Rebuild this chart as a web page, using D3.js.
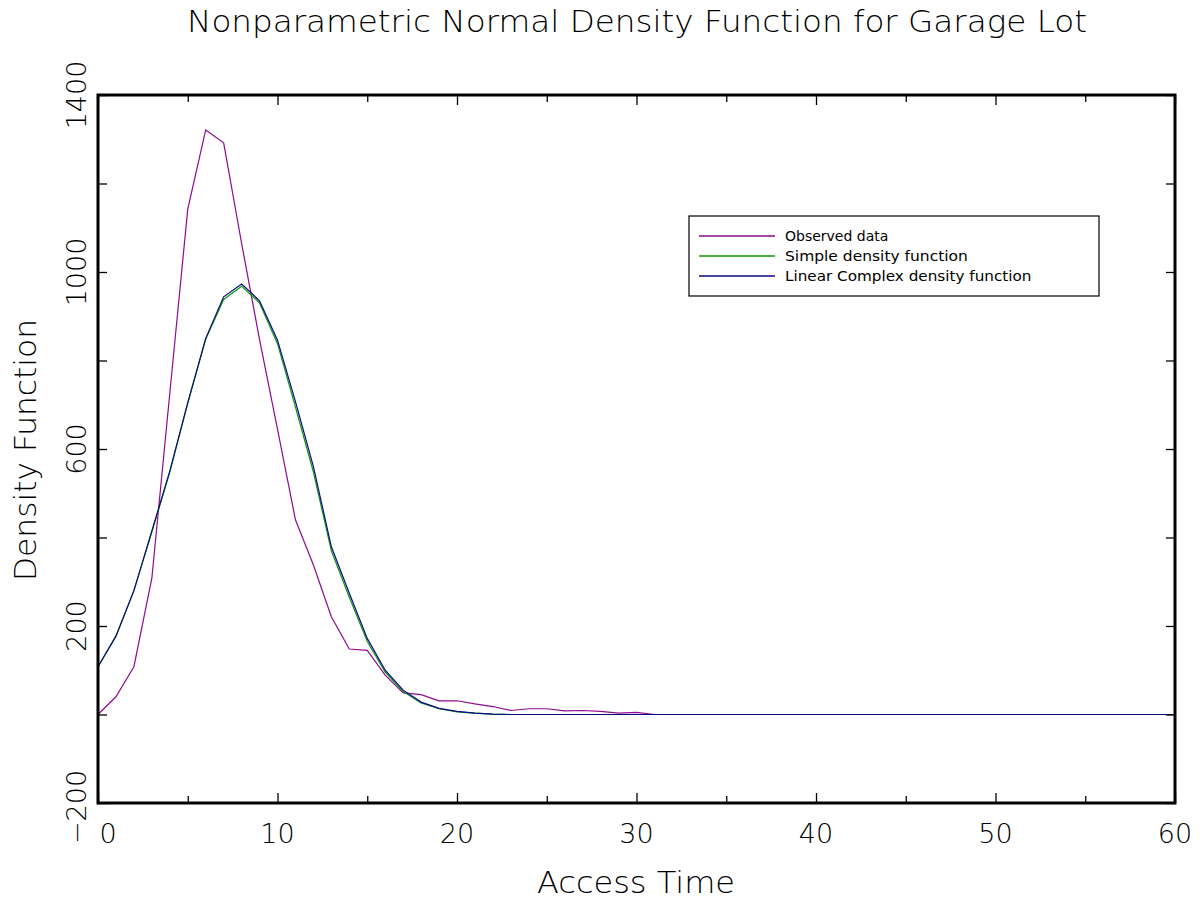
<!DOCTYPE html>
<html>
<head>
<meta charset="utf-8">
<script src="https://cdn.jsdelivr.net/npm/d3@7"></script>
<style>
  body { margin: 0; background: #fff; }
  text { font-family: "DejaVu Sans", sans-serif; font-weight: 200; fill: #000; }
</style>
</head>
<body>
<script>
// access time 0..60
let accessTime = d3.range(0, 61)

let observed = [0, 40, 108, 308, 726, 1142, 1321, 1292, 1065, 847, 645, 440, 338, 221, 148, 145, 89, 49, 45, 31,
  31, 24, 18, 9, 13, 13, 8, 9, 7, 3, 5, 0, 0, 0, 0, 0, 0, 0, 0, 0,
  0, 0, 0, 0, 0, 0, 0, 0, 0, 0, 0, 0, 0, 0, 0, 0, 0, 0, 0, 0, 0]
let simple = [108, 177, 280, 412, 548, 703, 848, 938, 968, 930, 838, 695, 548, 370, 265, 165, 96, 52, 26, 13,
  6, 3, 1, 0, 0, 0, 0, 0, 0, 0, 0, 0, 0, 0, 0, 0, 0, 0, 0, 0,
  0, 0, 0, 0, 0, 0, 0, 0, 0, 0, 0, 0, 0, 0, 0, 0, 0, 0, 0, 0, 0]
let linearComplex = [108, 177, 280, 415, 550, 705, 850, 944, 973, 935, 846, 707, 560, 379, 274, 172, 100, 55, 28, 14,
  7, 3, 1, 0, 0, 0, 0, 0, 0, 0, 0, 0, 0, 0, 0, 0, 0, 0, 0, 0,
  0, 0, 0, 0, 0, 0, 0, 0, 0, 0, 0, 0, 0, 0, 0, 0, 0, 0, 0, 0, 0]

let seriesNames = ["Observed data", "Simple density function", "Linear Complex density function"]
let seriesColors = ["#8e0a8e", "#0a9a0a", "#0a0a80"]

let xTicks = [0, 10, 20, 30, 40, 50, 60]
let yTicks = [-200, 200, 600, 1000, 1400]

let w = 1200, h = 903
let mLeft = 98, mRight = 1175, mTop = 95, mBottom = 803

let svg = d3.select("body").append("svg")
    .attr("width", w)
    .attr("height", h)

let x = d3.scaleLinear([0, 60], [mLeft, mRight])
let y = d3.scaleLinear([-200, 1400], [mBottom, mTop])

// lines
let line = d3.line()
    .x((d, i) => x(accessTime[i]))
    .y(d => y(d))

let all = [observed, simple, linearComplex]
svg.append("g").selectAll("path")
    .data(all)
    .enter()
    .append("path")
        .attr("d", d => line(d))
        .style("fill", "none")
        .style("stroke", (d, i) => seriesColors[i])
        .style("stroke-width", 1.2)

// ticks inward on all four sides
let tickStyle = g => {
    g.select(".domain").remove()
    g.selectAll("line").style("stroke", "#000").style("stroke-width", 1.3)
}
svg.append("g").attr("transform", `translate(0,${mBottom})`)
    .call(d3.axisBottom(x).tickValues(xTicks).tickSize(-10).tickFormat("")).call(tickStyle)
svg.append("g").attr("transform", `translate(0,${mBottom})`)
    .call(d3.axisBottom(x).tickValues(d3.range(5, 60, 10)).tickSize(-7).tickFormat("")).call(tickStyle)
svg.append("g").attr("transform", `translate(0,${mTop})`)
    .call(d3.axisTop(x).tickValues(xTicks).tickSize(-10).tickFormat("")).call(tickStyle)
svg.append("g").attr("transform", `translate(0,${mTop})`)
    .call(d3.axisTop(x).tickValues(d3.range(5, 60, 10)).tickSize(-7).tickFormat("")).call(tickStyle)
svg.append("g").attr("transform", `translate(${mLeft},0)`)
    .call(d3.axisLeft(y).tickValues(d3.range(-200, 1401, 200)).tickSize(-9).tickFormat("")).call(tickStyle)
svg.append("g").attr("transform", `translate(${mRight},0)`)
    .call(d3.axisRight(y).tickValues(d3.range(-200, 1401, 200)).tickSize(-9).tickFormat("")).call(tickStyle)

// frame
svg.append("rect")
    .attr("x", mLeft)
    .attr("y", mTop)
    .attr("width", mRight - mLeft)
    .attr("height", mBottom - mTop)
    .style("fill", "none")
    .style("stroke", "#000")
    .style("stroke-width", 3)

// tick labels
svg.append("g").selectAll("text")
    .data(xTicks)
    .enter()
    .append("text")
        .attr("x", d => x(d) + (d === 0 ? 10 : 0))
        .attr("y", 843)
        .attr("text-anchor", "middle")
        .style("font-size", "27px")
        .text(d => d)

svg.append("g").selectAll("text")
    .data(yTicks)
    .enter()
    .append("text")
        .attr("transform", d => `translate(86,${y(d) + (d < 0 ? 4 : 0)}) rotate(-90)`)
        .attr("text-anchor", "middle")
        .style("font-size", "27px")
        .text(d => d < 0 ? "\u2212" + Math.abs(d) : d)

// titles
svg.append("text")
    .attr("x", 637)
    .attr("y", 32)
    .attr("text-anchor", "middle")
    .attr("textLength", 900)
    .attr("lengthAdjust", "spacingAndGlyphs")
    .style("font-size", "30px")
    .text("Nonparametric Normal Density Function for Garage Lot")

svg.append("text")
    .attr("x", 636)
    .attr("y", 893)
    .attr("text-anchor", "middle")
    .attr("textLength", 198)
    .attr("lengthAdjust", "spacingAndGlyphs")
    .style("font-size", "30px")
    .text("Access Time")

svg.append("text")
    .attr("transform", "translate(36,450) rotate(-90)")
    .attr("text-anchor", "middle")
    .attr("textLength", 262)
    .attr("lengthAdjust", "spacingAndGlyphs")
    .style("font-size", "30px")
    .text("Density Function")

// legend
let lg = svg.append("g")
lg.append("rect")
    .attr("x", 689)
    .attr("y", 216)
    .attr("width", 410)
    .attr("height", 80)
    .style("fill", "#fff")
    .style("stroke", "#000")
    .style("stroke-width", 1.2)

let items = lg.selectAll("g.item")
    .data(seriesNames)
    .enter()
    .append("g")
        .attr("class", "item")
        .attr("transform", (d, i) => `translate(0,${236 + i * 20})`)
items.append("line")
    .attr("x1", 699)
    .attr("x2", 775)
    .style("stroke", (d, i) => seriesColors[i])
    .style("stroke-width", 1.3)
items.append("text")
    .attr("x", 785)
    .attr("y", 5)
    .attr("textLength", d => d.length * 7.95)
    .attr("lengthAdjust", "spacingAndGlyphs")
    .style("font-size", "14px")
    .style("font-weight", 400)
    .text(d => d)
</script>
</body>
</html>
